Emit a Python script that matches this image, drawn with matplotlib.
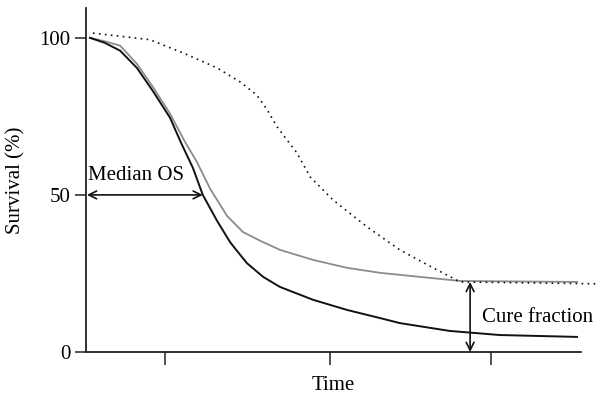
import matplotlib
matplotlib.use("Agg")
import matplotlib.pyplot as plt

plt.rcParams['font.family'] = ['Liberation Serif', 'DejaVu Serif']

# survival curves (time in arbitrary units, survival in %)
t_black = [0.08, 0.38, 0.69, 1.03, 1.35, 1.70, 1.92, 2.16, 2.36, 2.65, 2.91, 3.05, 3.25, 3.58,
           3.92, 4.59, 5.27, 5.94, 6.34, 7.35, 8.36, 9.92]
s_black = [100, 98.4, 95.9, 90.4, 83.1, 74.5, 66.6, 58.6, 50.0, 41.7, 35.0, 32.2, 28.3, 23.9,
           20.7, 16.6, 13.4, 10.8, 9.2, 6.7, 5.4, 4.8]

t_gray = [0.08, 0.38, 0.69, 1.03, 1.35, 1.70, 2.00, 2.24, 2.51, 2.85, 3.17, 3.52, 3.92, 4.59,
          5.27, 5.94, 7.56, 9.92]
s_gray = [100, 98.9, 97.5, 91.7, 84.4, 75.8, 66.9, 60.5, 51.9, 43.3, 38.2, 35.4, 32.5, 29.3,
          26.8, 25.2, 22.6, 22.3]

t_dot = [0.14, 1.29, 1.96, 2.65, 3.11, 3.45, 3.66, 3.86, 4.06, 4.26, 4.53, 4.99, 5.68, 6.34,
         7.01, 7.56, 10.32]
s_dot = [101.5, 99.4, 95.2, 90.4, 86.0, 81.8, 77.1, 71.7, 67.5, 63.4, 55.7, 48.4, 39.8, 32.5,
         26.8, 22.3, 21.7]

median_os = 2.36
cure_t = 7.76
cure_top = 22.3
y_ticks = [0, 50, 100]
x_ticks = [1.6, 4.93, 8.18]

fig = plt.figure(figsize=(6, 3.98), dpi=100)
ax = fig.add_axes([0.1433, 0.1156, 0.825, 0.8644])

ax.plot(t_gray, s_gray, color='#8c8c8c', lw=1.3)
ax.plot(t_black, s_black, color='#111111', lw=1.4)
ax.plot(t_dot, s_dot, color='#111111', lw=1.2, linestyle=(0, (1, 2.6)), clip_on=False)

ax.annotate('', xy=(median_os, 50), xytext=(0.02, 50),
            arrowprops=dict(arrowstyle='<->', color='#111111', lw=1.2, shrinkA=0, shrinkB=0,
                            mutation_scale=14))
ax.text(0.04, 53, 'Median OS', fontsize=15, ha='left', va='bottom')

ax.annotate('', xy=(cure_t, cure_top), xytext=(cure_t, 0),
            arrowprops=dict(arrowstyle='<->', color='#111111', lw=1.2, shrinkA=0, shrinkB=0,
                            mutation_scale=14))
ax.text(cure_t + 0.25, 11.0, 'Cure fraction', fontsize=15, ha='left', va='center')

ax.set_xlim(0, 10)
ax.set_ylim(0, 109.5)
ax.set_yticks(y_ticks)
ax.set_xticks(x_ticks)
ax.set_xticklabels([])
ax.tick_params(axis='y', direction='out', length=8, width=1.2, color='#333333', labelsize=15, pad=3)
ax.tick_params(axis='x', direction='out', length=9, width=1.2, color='#333333')

for side in ['top', 'right']:
    ax.spines[side].set_visible(False)
for side in ['left', 'bottom']:
    ax.spines[side].set_linewidth(1.3)
    ax.spines[side].set_color('#222222')

ax.set_ylabel('Survival (%)', fontsize=15, labelpad=10)
ax.set_xlabel('Time', fontsize=15, labelpad=5)

fig.savefig('out.png', dpi=100)
